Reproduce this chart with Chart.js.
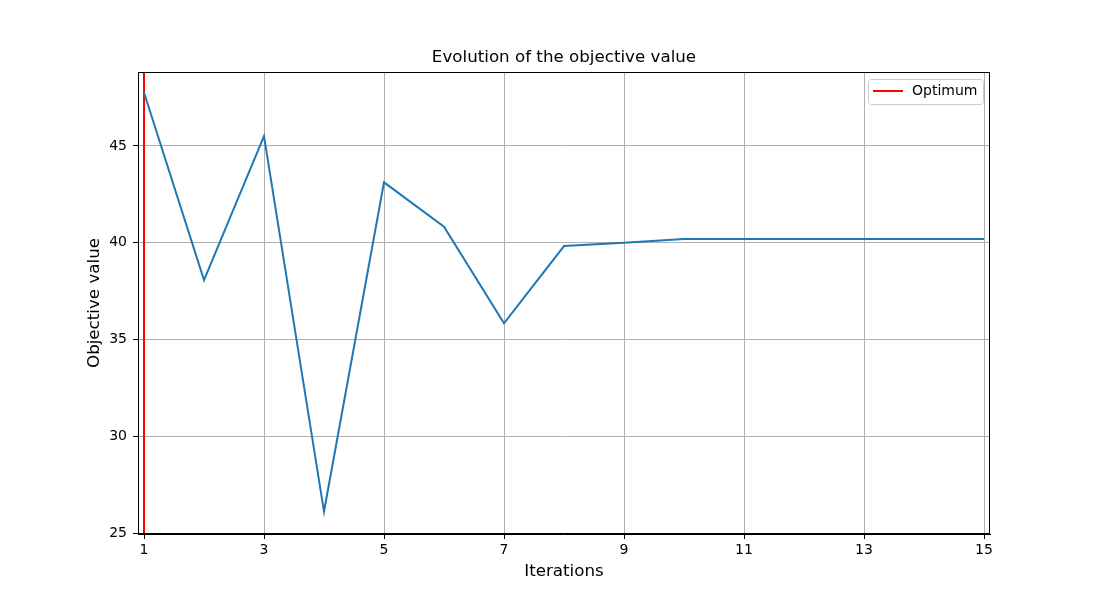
<!DOCTYPE html>
<html>
<head>
<meta charset="utf-8">
<script src="https://cdn.jsdelivr.net/npm/chart.js@4.4.1/dist/chart.umd.min.js"></script>
<style>
  html, body { margin: 0; padding: 0; background: #fff; }
  #wrap { width: 1100px; height: 600px; }
</style>
</head>
<body>
<div id="wrap"><canvas id="c" width="1100" height="600"></canvas></div>
<script>
const iterations = [1, 2, 3, 4, 5, 6, 7, 8, 9, 10, 11, 12, 13, 14, 15];
const objectiveValues = [47.76, 38.07, 45.51, 26.12, 43.12, 40.83, 35.84, 39.83, 40.0, 40.19, 40.19, 40.19, 40.19, 40.19, 40.19];
const optimumIteration = 1;
const xTickValues = [1, 3, 5, 7, 9, 11, 13, 15];
const yTickValues = [25, 30, 35, 40, 45];
const xLimits = [0.9, 15.1];
const yLimits = [24.96, 48.82];
const chartTitle = 'Evolution of the objective value';

const FONT = "'DejaVu Sans', sans-serif";

const titlePlugin = {
  id: 'mplTitle',
  afterDraw(chart) {
    const a = chart.chartArea;
    const ctx = chart.ctx;
    ctx.save();
    ctx.fillStyle = '#000';
    ctx.font = '16.7px ' + FONT;
    ctx.textAlign = 'center';
    ctx.textBaseline = 'middle';
    ctx.fillText(chartTitle, (a.left + a.right) / 2, a.top - 14);
    ctx.restore();
  }
};

const legendPlugin = {
  id: 'mplLegend',
  afterDatasetsDraw(chart) {
    const ctx = chart.ctx;
    const area = chart.chartArea;
    const x1 = area.right - 7, x0 = x1 - 115, y0 = area.top + 7, y1 = y0 + 25;
    ctx.save();
    ctx.fillStyle = 'rgba(255,255,255,0.8)';
    ctx.strokeStyle = '#cccccc';
    ctx.lineWidth = 1;
    ctx.beginPath();
    ctx.roundRect(x0 + 0.5, y0 + 0.5, x1 - x0, y1 - y0, 3);
    ctx.fill();
    ctx.stroke();
    ctx.strokeStyle = 'red';
    ctx.lineWidth = 2;
    ctx.beginPath();
    ctx.moveTo(x0 + 5, y0 + 12);
    ctx.lineTo(x0 + 35, y0 + 12);
    ctx.stroke();
    ctx.fillStyle = '#000';
    ctx.font = '14px ' + FONT;
    ctx.textBaseline = 'middle';
    ctx.textAlign = 'left';
    ctx.fillText(chart.data.datasets[1].label, x0 + 44, y0 + 12.5);
    ctx.restore();
  }
};

const framePlugin = {
  id: 'frame',
  afterDraw(chart) {
    const a = chart.chartArea;
    const ctx = chart.ctx;
    ctx.save();
    ctx.strokeStyle = '#000';
    ctx.lineWidth = 1;
    ctx.strokeRect(Math.round(a.left) + 0.5, Math.round(a.top) + 0.5, Math.round(a.right - a.left) - 1, Math.round(a.bottom - a.top) - 1);
    ctx.restore();
  }
};

new Chart(document.getElementById('c'), {
  type: 'line',
  data: {
    datasets: [
      {
        label: 'Objective',
        data: iterations.map((it, i) => ({ x: it, y: objectiveValues[i] })),
        borderColor: '#1f77b4',
        borderWidth: 2,
        pointRadius: 0,
        tension: 0,
        fill: false
      },
      {
        label: 'Optimum',
        data: [{ x: optimumIteration, y: yLimits[0] }, { x: optimumIteration, y: yLimits[1] }],
        borderColor: 'red',
        borderWidth: 2,
        pointRadius: 0,
        fill: false
      }
    ]
  },
  options: {
    responsive: false,
    animation: false,
    layout: { padding: { left: 0, right: 110, top: 72, bottom: 0 } },
    plugins: {
      legend: { display: false },
      tooltip: { enabled: false },
      title: { display: false }
    },
    scales: {
      x: {
        type: 'linear',
        min: xLimits[0],
        max: xLimits[1],
        afterBuildTicks(scale) { scale.ticks = xTickValues.map(v => ({ value: v })); },
        afterFit(scale) { scale.height = 66; },
        ticks: { color: '#000', font: { family: FONT, size: 14 }, padding: 3, maxRotation: 0, autoSkip: false },
        grid: { color: '#b0b0b0', lineWidth: 1, tickColor: '#000', tickLength: 5 },
        border: { display: true, color: '#000', width: 1 },
        title: {
          display: true,
          text: 'Iterations',
          color: '#000',
          font: { family: FONT, size: 16.7 },
          padding: { top: 0, bottom: 18 }
        }
      },
      y: {
        type: 'linear',
        min: yLimits[0],
        max: yLimits[1],
        afterBuildTicks(scale) { scale.ticks = yTickValues.map(v => ({ value: v })); },
        afterFit(scale) { scale.width = 138; },
        ticks: { color: '#000', font: { family: FONT, size: 14 }, padding: 6, autoSkip: false },
        grid: { color: '#b0b0b0', lineWidth: 1, tickColor: '#000', tickLength: 5 },
        border: { display: true, color: '#000', width: 1 },
        title: {
          display: true,
          text: 'Objective value',
          color: '#000',
          font: { family: FONT, size: 16.7 },
          padding: { top: 85, bottom: 0 }
        }
      }
    }
  },
  plugins: [legendPlugin, framePlugin, titlePlugin]
});
</script>
</body>
</html>
